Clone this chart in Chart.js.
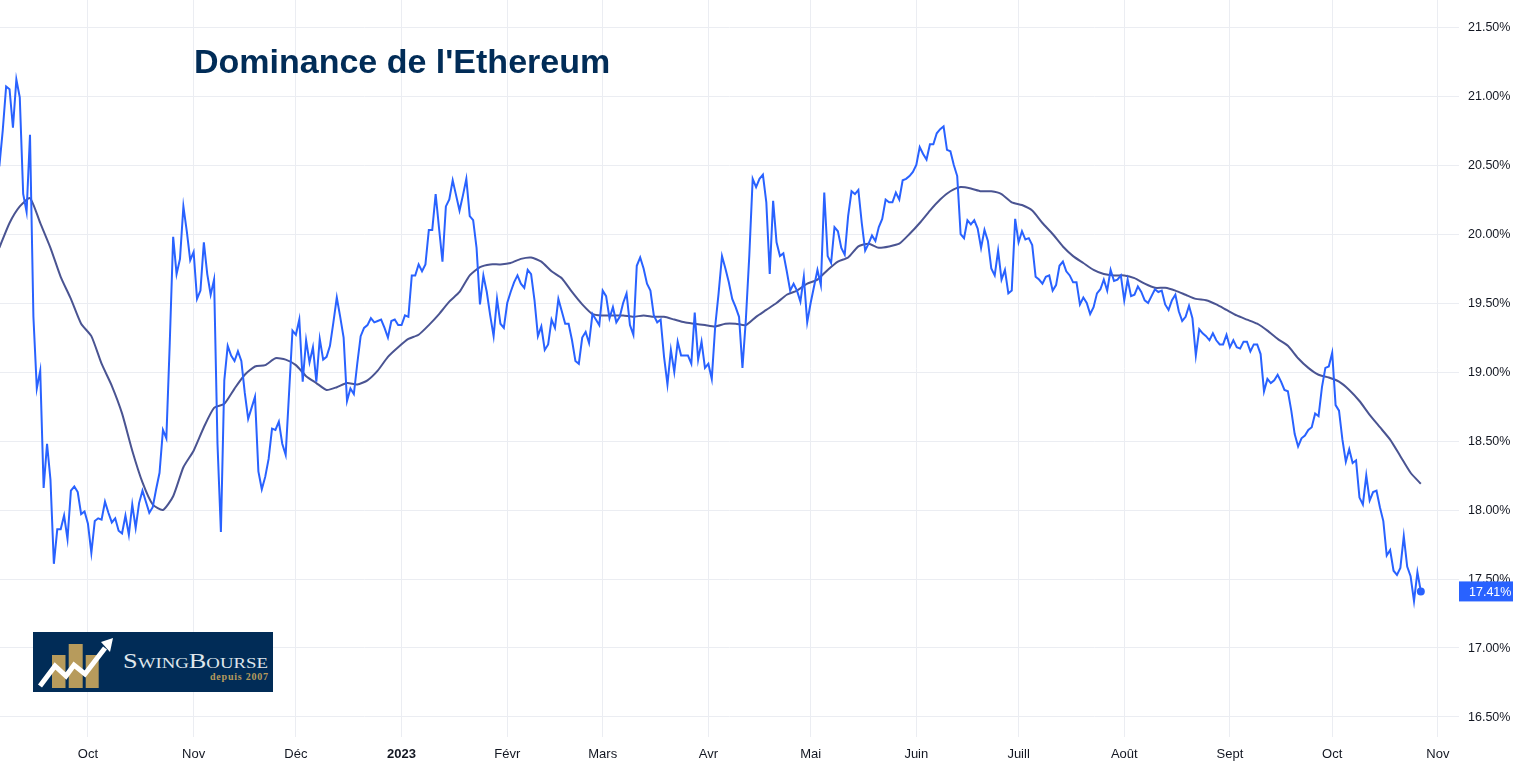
<!DOCTYPE html>
<html lang="fr">
<head>
<meta charset="utf-8">
<title>Dominance de l'Ethereum</title>
<script src="https://cdn.jsdelivr.net/npm/chart.js@4"></script>
<style>
  html, body { margin: 0; padding: 0; background: #fff; overflow: hidden; }
  #wrap { position: relative; width: 1513px; height: 767px; }
  #chart { display: block; }
  #title {
    position: absolute; left: 194px; top: 42px;
    font: bold 34px "Liberation Sans", Arial, sans-serif;
    color: #012c57; white-space: nowrap;
  }
  #logo { position: absolute; left: 33px; top: 632px; }
</style>
</head>
<body>
<div id="wrap">
  <canvas id="chart" width="1513" height="767"></canvas>
  <div id="title">Dominance de l'Ethereum</div>
  <svg id="logo" width="240" height="60" viewBox="33 632 240 60">
    <rect x="33" y="632" width="240" height="60" fill="#012c57"/>
    <rect x="52" y="655" width="13.5" height="33" fill="#b79b5c"/>
    <rect x="68.7" y="644" width="14" height="44" fill="#b79b5c"/>
    <rect x="85.7" y="655" width="13" height="33" fill="#b79b5c"/>
    <polyline points="40,686 55,666 66,676 74,665 85,674 105,648" fill="none" stroke="#fff" stroke-width="5"/>
    <polygon points="113,638 101,642 110,652" fill="#fff"/>
    <text x="123" y="668" font-family="Liberation Serif" font-size="21" fill="#dfe6ec" textLength="145" lengthAdjust="spacingAndGlyphs" style="font-variant: small-caps">SwingBourse</text>
    <text x="210" y="680" font-family="Liberation Serif" font-weight="bold" font-size="10" fill="#b79b5c" textLength="58">depuis 2007</text>
  </svg>
</div>

<script>
'use strict';

// ── Data ────────────────────────────────────────────────────
// Day numbers count from 1 Oct 2022
const FIRST_DAY = -26;
const MA_STEP   = 3;   // moving average was read every third day

const monthDays   = [0, 31, 61, 92, 123, 151, 182, 212, 243, 273, 304, 335, 365, 396];
const monthLabels = ['Oct', 'Nov', 'Déc', '2023', 'Févr', 'Mars', 'Avr', 'Mai', 'Juin', 'Juill', 'Août', 'Sept', 'Oct', 'Nov'];
const priceTicks  = [16.5, 17, 17.5, 18, 18.5, 19, 19.5, 20, 20.5, 21, 21.5];

const dominance = [
  20.49, 20.75, 21.07, 21.05, 20.77, 21.12, 20.99, 20.29, 20.16, 20.72,
  19.40, 18.88, 19.01, 18.16, 18.48, 18.22, 17.61, 17.86, 17.86, 17.96,
  17.79, 18.14, 18.17, 18.13, 17.97, 17.99, 17.90, 17.69, 17.92, 17.94,
  17.93, 18.06, 17.98, 17.91, 17.94, 17.85, 17.83, 17.96, 17.82, 18.04,
  17.87, 18.05, 18.14, 18.06, 17.98, 18.02, 18.15, 18.27, 18.58, 18.52,
  19.21, 19.98, 19.71, 19.82, 20.20, 20.02, 19.81, 19.87, 19.53, 19.59,
  19.94, 19.71, 19.56, 19.67, 18.48, 17.84, 18.94, 19.19, 19.12, 19.08,
  19.15, 19.08, 18.85, 18.66, 18.74, 18.82, 18.28, 18.15, 18.24, 18.37,
  18.59, 18.58, 18.64, 18.48, 18.40, 18.85, 19.30, 19.27, 19.38, 18.93,
  19.23, 19.07, 19.18, 18.93, 19.24, 19.09, 19.11, 19.19, 19.36, 19.54,
  19.40, 19.25, 18.79, 18.88, 18.84, 19.06, 19.26, 19.32, 19.34, 19.39,
  19.36, 19.37, 19.38, 19.32, 19.25, 19.37, 19.38, 19.34, 19.34, 19.41,
  19.40, 19.70, 19.70, 19.78, 19.73, 19.78, 20.03, 20.03, 20.29, 20.04,
  19.80, 20.20, 20.25, 20.39, 20.28, 20.17, 20.28, 20.40, 20.13, 20.10,
  19.90, 19.49, 19.70, 19.58, 19.41, 19.26, 19.53, 19.35, 19.32, 19.50,
  19.58, 19.65, 19.70, 19.64, 19.61, 19.74, 19.71, 19.52, 19.26, 19.33,
  19.16, 19.20, 19.38, 19.32, 19.53, 19.44, 19.35, 19.35, 19.23, 19.08,
  19.06, 19.25, 19.29, 19.21, 19.42, 19.38, 19.34, 19.59, 19.55, 19.39,
  19.47, 19.36, 19.40, 19.50, 19.57, 19.34, 19.27, 19.77, 19.83, 19.75,
  19.64, 19.59, 19.41, 19.36, 19.38, 19.11, 18.91, 19.16, 19.00, 19.22,
  19.12, 19.12, 19.12, 19.06, 19.43, 19.09, 19.22, 19.03, 19.06, 18.95,
  19.33, 19.57, 19.84, 19.75, 19.65, 19.53, 19.47, 19.40, 19.03, 19.38,
  19.84, 20.40, 20.34, 20.40, 20.43, 20.23, 19.71, 20.24, 19.94, 19.84,
  19.86, 19.73, 19.59, 19.64, 19.59, 19.51, 19.69, 19.36, 19.50, 19.62,
  19.74, 19.63, 20.30, 19.84, 19.79, 20.05, 20.02, 19.90, 19.85, 20.13,
  20.31, 20.29, 20.32, 20.08, 19.88, 19.93, 19.99, 19.95, 20.05, 20.11,
  20.25, 20.23, 20.23, 20.30, 20.25, 20.39, 20.40, 20.42, 20.45, 20.50,
  20.63, 20.58, 20.54, 20.65, 20.65, 20.73, 20.76, 20.78, 20.61, 20.60,
  20.50, 20.42, 20.00, 19.97, 20.10, 20.07, 20.10, 20.04, 19.90, 20.03,
  19.95, 19.75, 19.70, 19.88, 19.67, 19.74, 19.57, 19.59, 20.11, 19.94,
  20.02, 19.96, 19.97, 19.92, 19.69, 19.67, 19.64, 19.69, 19.70, 19.59,
  19.63, 19.77, 19.80, 19.73, 19.70, 19.65, 19.65, 19.49, 19.54, 19.50,
  19.42, 19.47, 19.57, 19.60, 19.67, 19.59, 19.74, 19.66, 19.67, 19.70,
  19.52, 19.67, 19.55, 19.56, 19.62, 19.58, 19.52, 19.50, 19.55, 19.60,
  19.58, 19.59, 19.49, 19.45, 19.52, 19.56, 19.44, 19.37, 19.40, 19.48,
  19.39, 19.12, 19.31, 19.28, 19.26, 19.23, 19.28, 19.23, 19.20, 19.20,
  19.27, 19.18, 19.23, 19.18, 19.17, 19.22, 19.22, 19.15, 19.20, 19.20,
  19.13, 18.86, 18.95, 18.92, 18.94, 18.98, 18.93, 18.87, 18.86, 18.72,
  18.55, 18.46, 18.52, 18.54, 18.58, 18.60, 18.70, 18.68, 18.89, 19.03,
  19.04, 19.14, 18.76, 18.72, 18.51, 18.35, 18.44, 18.34, 18.36, 18.09,
  18.04, 18.25, 18.07, 18.13, 18.14, 18.02, 17.92, 17.67, 17.71, 17.56,
  17.53, 17.58, 17.81, 17.59, 17.52, 17.34, 17.55, 17.41,
];

const movingAverage = [
  19.90, 20.08, 20.20, 20.26, 20.08, 19.90, 19.69, 19.53, 19.35, 19.26,
  19.06, 18.90, 18.70, 18.43, 18.20, 18.04, 18.00, 18.10, 18.31, 18.43,
  18.60, 18.74, 18.77, 18.88, 18.98, 19.04, 19.05, 19.10, 19.09, 19.05,
  18.97, 18.92, 18.87, 18.89, 18.92, 18.91, 18.94, 19.01, 19.11, 19.18,
  19.24, 19.27, 19.34, 19.42, 19.51, 19.58, 19.70, 19.76, 19.78, 19.78,
  19.79, 19.82, 19.83, 19.80, 19.73, 19.68, 19.58, 19.49, 19.42, 19.41,
  19.41, 19.41, 19.40, 19.41, 19.40, 19.40, 19.38, 19.36, 19.35, 19.34,
  19.33, 19.35, 19.35, 19.34, 19.40, 19.45, 19.50, 19.56, 19.59, 19.64,
  19.67, 19.74, 19.80, 19.83, 19.91, 19.93, 19.90, 19.91, 19.93, 20.00,
  20.08, 20.17, 20.25, 20.31, 20.34, 20.33, 20.31, 20.31, 20.29, 20.23,
  20.21, 20.17, 20.08, 20.00, 19.91, 19.84, 19.79, 19.74, 19.71, 19.70,
  19.70, 19.68, 19.64, 19.61, 19.61, 19.59, 19.56, 19.53, 19.52, 19.49,
  19.45, 19.41, 19.38, 19.35, 19.30, 19.24, 19.19, 19.10, 19.03, 18.98,
  18.96, 18.93, 18.87, 18.79, 18.69, 18.60, 18.51, 18.39, 18.27, 18.19,
];

// ── Colours & sizes ─────────────────────────────────────────
const BLUE = '#2962ff';
const MA_COLOR = '#4a5492';
const GRID = '#ebedf2';
const TEXT = '#131722';
const FONT = '"Liberation Sans", Arial, sans-serif';
const AXIS_W = 54;
const AXIS_H = 30;
const lastValue = dominance[dominance.length - 1];

// Badge with the last value, over the price axis
const lastValueBadge = {
  id: 'lastValueBadge',
  afterDraw(chart) {
    const { ctx, scales, chartArea } = chart;
    const y = scales.y.getPixelForValue(lastValue);
    ctx.save();
    ctx.fillStyle = BLUE;
    ctx.fillRect(chartArea.right, y - 10, AXIS_W, 20);
    ctx.fillStyle = '#fff';
    ctx.font = '12.5px ' + FONT;
    ctx.textBaseline = 'middle';
    ctx.fillText(lastValue.toFixed(2) + '%', chartArea.right + 10, y + 1);
    ctx.restore();
  }
};

new Chart(document.getElementById('chart').getContext('2d'), {
  type: 'line',
  data: {
    datasets: [
      {
        label: 'Dominance',
        data: dominance.map((v, i) => ({ x: FIRST_DAY + i, y: v })),
        borderColor: BLUE,
        backgroundColor: BLUE,
        borderWidth: 2,
        tension: 0,
        pointRadius: ctx => (ctx.dataIndex === dominance.length - 1 ? 3 : 0),
      },
      {
        label: 'Moyenne mobile',
        data: movingAverage.map((v, i) => ({ x: FIRST_DAY + i * MA_STEP, y: v })),
        borderColor: MA_COLOR,
        borderWidth: 2,
        tension: 0.2,
        pointRadius: 0,
      },
    ]
  },
  options: {
    responsive: false,
    devicePixelRatio: 1,
    animation: false,
    layout: { padding: 0, autoPadding: false },
    plugins: { legend: { display: false }, tooltip: { enabled: false } },
    scales: {
      x: {
        type: 'linear',
        min: -25.8,
        max: 402.2,
        border: { display: false },
        grid: { color: GRID, drawTicks: false },
        afterBuildTicks: scale => { scale.ticks = monthDays.map(value => ({ value })); },
        afterFit: scale => {
          scale.height = AXIS_H;
          scale.paddingLeft = 0;
          scale.paddingRight = 0;
        },
        ticks: {
          autoSkip: false,
          maxRotation: 0,
          padding: 10,
          color: TEXT,
          font: ctx => ({
            family: FONT,
            size: 13,
            weight: ctx.tick && ctx.tick.value === 92 ? 'bold' : 'normal',
          }),
          callback: value => monthLabels[monthDays.indexOf(value)],
        },
      },
      y: {
        position: 'right',
        min: 16.355,
        max: 21.696,
        border: { display: false },
        grid: { color: GRID, drawTicks: false },
        afterBuildTicks: scale => { scale.ticks = priceTicks.map(value => ({ value })); },
        afterFit: scale => {
          scale.width = AXIS_W;
          scale.paddingTop = 0;
          scale.paddingBottom = 0;
        },
        ticks: {
          autoSkip: false,
          padding: 9,
          labelOffset: 1,
          color: TEXT,
          font: { family: FONT, size: 12.5 },
          callback: value => value.toFixed(2) + '%',
        },
      },
    },
  },
  plugins: [lastValueBadge],
});
</script>
</body>
</html>
